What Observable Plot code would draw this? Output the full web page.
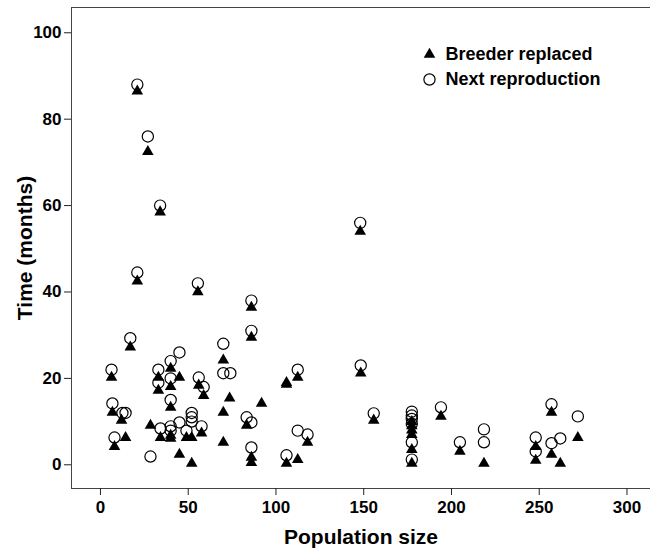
<!DOCTYPE html>
<html>
<head>
<meta charset="utf-8">
<script src="https://cdn.jsdelivr.net/npm/d3@7"></script>
<script src="https://cdn.jsdelivr.net/npm/@observablehq/plot@0.6"></script>
<style>
  html, body { margin: 0; padding: 0; background: #fff; }
  #chart { width: 650px; height: 550px; }
</style>
</head>
<body>
<div id="chart"></div>
<script>
// Breeder replaced (triangles): population size, months
const breederX = [21, 21, 27, 34, 55.5, 148, 86, 86, 17, 70, 40, 6.3, 33, 45, 56, 58.8, 33, 40, 73.6, 91.8, 70, 40, 6.8, 12, 83.3, 28.5, 34.2, 40, 40, 49, 57.6, 52, 8, 14.3, 70, 86, 86, 45, 52,
  112.4, 106, 106, 118, 106, 112.4, 148.3, 155.7,
  177.4, 177.4, 177.4, 177.4, 177.4, 177.4, 194, 204.8, 218.5, 248, 248, 257, 257, 262, 272];
const breederY = [86.5, 42.5, 72.5, 58.5, 40, 54, 36.4, 29.5, 27.2, 24.2, 22.3, 20.2, 20.2, 20.2, 18.4, 16, 17.2, 18.1, 15.4, 14.2, 12.1, 13.3, 12.1, 10.3, 9.1, 9.1, 6.3, 6.8, 6.1, 6.3, 7.3, 6.3, 4.2, 6.3, 5.2, 1.7, 0.5, 2.4, 0.3,
  20.2, 19, 18.6, 5.2, 0.3, 1.2, 21.2, 10.3,
  10, 9, 8, 7, 3.5, 0.3, 11.2, 3.1, 0.3, 4.2, 1, 12.1, 2.4, 0.3, 6.3];

// Next reproduction (circles): population size, months
const nextX = [21, 21, 27, 34, 55.5, 148, 86, 86, 17, 70, 45, 40, 6.3, 33, 56, 58.8, 33, 40, 70, 74, 40, 6.8, 12.5, 14.3, 83.3, 86, 52, 52, 52, 45, 34.2, 40, 40, 49, 57.6, 8, 86, 28.5,
  112.4, 112.4, 118, 106, 148.3, 155.7,
  177.4, 177.4, 177.4, 177.4, 177.4, 177.4, 194, 204.8, 218.5, 218.5, 248, 248, 257, 257, 262, 272];
const nextY = [88, 44.5, 76, 60, 42, 56, 38, 31, 29.3, 28, 26, 24, 22, 22, 20.2, 18, 19, 20, 21.2, 21.2, 15, 14.2, 12, 12, 11, 9.8, 12, 11, 10, 9.8, 8.4, 8.9, 7.9, 7.9, 8.9, 6.3, 4, 1.9,
  22, 7.9, 7, 2.2, 23, 11.9,
  12.3, 11.4, 10.6, 9.5, 5.2, 1.2, 13.3, 5.2, 8.2, 5.2, 6.3, 3.1, 14, 5, 6.1, 11.2];

const xTicks = [0, 50, 100, 150, 200, 250, 300];
const yTicks = [0, 20, 40, 60, 80, 100];
const xTitle = "Population size";
const yTitle = "Time (months)";
const legendLabels = ["Breeder replaced", "Next reproduction"];

const breeder = breederX.map((x, i) => ({x, y: breederY[i]}));
const nextRep = nextX.map((x, i) => ({x, y: nextY[i]}));

const chart = Plot.plot({
  width: 650,
  height: 550,
  marginLeft: 71,
  marginRight: 0,
  marginTop: 7,
  marginBottom: 62,
  style: {fontFamily: "'Liberation Sans', Arial, sans-serif", fontSize: "17px", fontWeight: "bold", color: "#000", background: "#fff"},
  x: {domain: [-16.5, 313.4], ticks: xTicks, tickFormat: d => String(d)},
  y: {domain: [-5.49, 105.85], ticks: yTicks, tickFormat: d => String(d)},
  marks: [
    Plot.frame({anchor: "top", stroke: "#444"}),
    Plot.frame({anchor: "left", stroke: "#444"}),
    Plot.frame({anchor: "bottom", stroke: "#444"}),
    Plot.axisX({ticks: xTicks, tickSize: 7, tickPadding: 5, label: null, stroke: "#222"}),
    Plot.axisY({ticks: yTicks, tickSize: 7, tickPadding: 3, label: null, stroke: "#222"}),
    Plot.dot(breeder, {x: "x", y: "y", symbol: "triangle", fill: "#000", stroke: "none", r: 4.3}),
    Plot.dot(nextRep, {x: "x", y: "y", symbol: "circle", fill: "none", stroke: "#000", strokeWidth: 1.2, r: 5.6}),
    Plot.text([xTitle], {frameAnchor: "bottom", dy: 49, textAnchor: "middle", lineAnchor: "middle", fontSize: 21, fontWeight: "bold", fill: "#000"}),
    Plot.text([yTitle], {frameAnchor: "left", dx: -46, rotate: -90, textAnchor: "middle", lineAnchor: "middle", fontSize: 21, fontWeight: "bold", fill: "#000"}),
    Plot.dot([legendLabels[0]], {frameAnchor: "top-left", dx: 358, dy: 47, symbol: "triangle", fill: "#000", stroke: "none", r: 4.3}),
    Plot.dot([legendLabels[1]], {frameAnchor: "top-left", dx: 358, dy: 72, symbol: "circle", fill: "none", stroke: "#000", strokeWidth: 1.2, r: 5.6}),
    Plot.text([legendLabels[0]], {frameAnchor: "top-left", dx: 374, dy: 47, textAnchor: "start", lineAnchor: "middle", fontSize: 18, fontWeight: "bold", fill: "#000"}),
    Plot.text([legendLabels[1]], {frameAnchor: "top-left", dx: 374, dy: 72, textAnchor: "start", lineAnchor: "middle", fontSize: 18, fontWeight: "bold", fill: "#000"})
  ]
});
document.getElementById("chart").appendChild(chart);
</script>
</body>
</html>
